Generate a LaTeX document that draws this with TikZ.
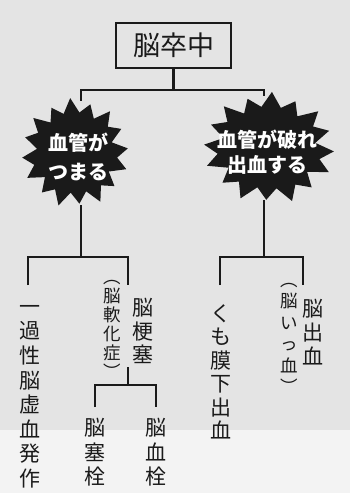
\documentclass[tikz,border=0pt]{standalone}
\usepackage{fontspec}
\newfontfamily\jp{Noto Sans CJK JP}
\usetikzlibrary{calc}
\definecolor{bgtop}{HTML}{E4E4E4}
\definecolor{bgbot}{HTML}{F3F3F3}
\definecolor{ink}{HTML}{1A1A1A}
\newcommand\burstshape[5]{% cx, cy, rx, ry, rot
  \fill[ink,shift={(#1,#2)},rotate=#5] plot[samples at={0,11.25,...,348.75}, variable=\t]
   ({#3*cos(\t)*(0.88+0.12*cos(16*\t)+0.04*sin(7*\t))},
    {#4*sin(\t)*(0.88+0.12*cos(16*\t)+0.04*sin(7*\t))}) -- cycle;}
\tikzset{
  tree/.style={draw=ink, line width=2.4pt},
  col/.style={inner sep=0pt, align=center, text=ink, anchor=north,
    execute at begin node=\strut, execute at end node=\strut},
  bigcol/.style={col, font=\jp\fontsize{21}{#1}\selectfont},
  smallcol/.style={col, font=\jp\fontsize{17.5}{#1}\selectfont},
  bursttext/.style={inner sep=0pt, align=center, text=white, font=\jp\bfseries\fontsize{20}{#1}\selectfont},
  burstnode/.style={inner sep=0pt, minimum width=100pt, minimum height=104pt},
}
\begin{document}
\begin{tikzpicture}[x=1pt,y=-1pt]
\useasboundingbox (0,0) rectangle (350,493);
\fill[bgtop] (0,0) rectangle (350,430);
\fill[bgbot] (0,430) rectangle (350,493);

% title
\node[draw=ink, line width=1.3pt, minimum width=115pt, minimum height=45pt, inner sep=0pt,
  font=\jp\fontsize{27}{30}\selectfont, text=ink] (title) at (173.5,45.5) {脳卒中};

% bursts (invisible anchor nodes)
\node[burstnode] (bL) at (81,153) {};
\node[burstnode] (bR) at (264,148) {};

% columns
\node[bigcol=24.6] (c1) at (30,305) {一\\過\\性\\脳\\虚\\血\\発\\作};
\node[bigcol=23.5] (kosoku) at (143,298) {脳\\梗\\塞};
\node[smallcol=19] (nanka) at (112,280) {︵\\脳\\軟\\化\\症\\︶};
\node[bigcol=24.5] (sokusen) at (95,418) {脳\\塞\\栓};
\node[bigcol=24.5] (kessen) at (156,418) {脳\\血\\栓};
\node[bigcol=23.5] (kumo) at (221,304) {く\\も\\膜\\下\\出\\血};
\node[bigcol=24] (nou) at (313,299) {脳\\出\\血};
\node[smallcol=21.5] (ikketsu) at (289,283) {︵\\脳\\い\\っ\\血\\︶};

% junction coordinates
\coordinate (j0) at (173.5,90);
\coordinate (j1) at (81,257);
\coordinate (j2) at (264,257);
\coordinate (kk) at (128,285);
\coordinate (nn) at (303,285);
\coordinate (k0) at (128,367);
\coordinate (j3) at (128,385);
\coordinate (j4) at (128,407);

% connectors
\draw[tree] (title.south) -- (j0);
\draw[tree] (bL.north) -- (bL.north |- j0) -- (bR.north |- j0) -- (bR.north);
\draw[tree] (bL.south) -- (j1);
\draw[tree] ([xshift=-2pt]c1.north |- kk) -- ([xshift=-2pt]c1.north |- j1) -- (kk |- j1) -- (kk);
\draw[tree] (bR.south) -- (j2);
\draw[tree] ([xshift=-1pt]kumo.north |- nn) -- ([xshift=-1pt]kumo.north |- j2) -- (nn |- j2) -- (nn);
\draw[tree] (k0) -- (j3);
\draw[tree] (sokusen.north |- j4) -- (sokusen.north |- j3) -- (kessen.north |- j3) -- (kessen.north |- j4);

% bursts
\burstshape{75}{153}{53}{53}{5}
\burstshape{269}{148}{65}{54}{-3}
\node[bursttext=28.5] (tL) at (78,157) {血管が\\つまる};
\node[bursttext=25.5] (tR) at (267,152) {血管が破れ\\出血する};
\end{tikzpicture}
\end{document}
